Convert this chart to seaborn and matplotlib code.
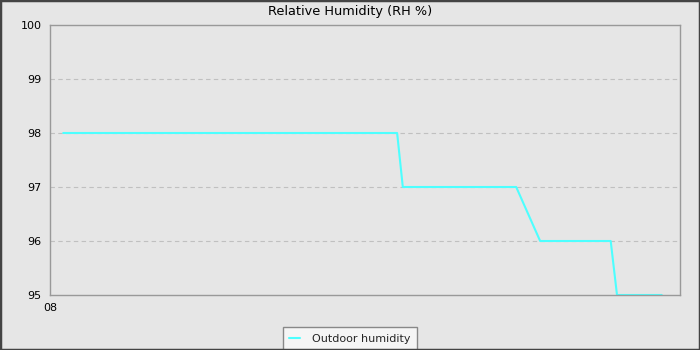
import matplotlib
matplotlib.use("Agg")
import matplotlib.pyplot as plt
from matplotlib.patches import Rectangle
from matplotlib.lines import Line2D
import seaborn as sns
import pandas as pd

# hours since 08:00
hours = [0.21, 5.51, 5.60, 7.40, 7.78, 8.90, 9.00, 9.71]
humidity = [98, 98, 97, 97, 96, 96, 95, 95]
x_ticks = [0, 6]
x_tick_labels = ["08", ""]
y_ticks = [95, 96, 97, 98, 99, 100]
series_name = "Outdoor humidity"
title = "Relative Humidity (RH %)"

df = pd.DataFrame({"hours": hours, "humidity": humidity, "series": series_name})

sns.set_style("white")
plt.rcParams["font.family"] = ["DejaVu Sans"]

fig = plt.figure(figsize=(7, 3.5), dpi=100, facecolor="#e6e6e6")
ax = fig.add_axes([50 / 700, 55 / 350, 630 / 700, 270 / 350])
ax.set_facecolor("#e6e6e6")

line_color = "#4dffff"
sns.lineplot(data=df, x="hours", y="humidity", hue="series", palette=[line_color],
             linewidth=1.5, ax=ax, legend=False, sort=False)

ax.set_xlim(0, 10)
ax.set_ylim(95, 100)
ax.set_xticks(x_ticks)
ax.set_xticklabels(x_tick_labels)
ax.set_yticks(y_ticks)
ax.tick_params(axis="both", direction="out", length=4, width=1, color="black",
               labelsize=8, labelcolor="black", pad=2)
ax.set_xlabel("")
ax.set_ylabel("")
for sp in ax.spines.values():
    sp.set_color("#999999")
    sp.set_linewidth(1)
    sp.set_visible(True)
ax.grid(False)
for y in y_ticks[1:-1]:
    ax.axhline(y, color="#c0c0c0", linestyle=(0, (4, 3)), linewidth=0.8, zorder=0)

fig.text(0.5, 1 - 12 / 350, title, ha="center", va="center", fontsize=9.3, color="black")

handle = Line2D([], [], color=line_color, linewidth=1.5)
leg = fig.legend([handle], [series_name], loc="lower center",
                 bbox_to_anchor=(0.5, -0.015), fontsize=8, frameon=True,
                 fancybox=False, handlelength=1.0, borderpad=0.55, handletextpad=1.1)
leg.get_frame().set_facecolor("#f5f5f5")
leg.get_frame().set_edgecolor("#888888")
leg.get_frame().set_linewidth(1)
leg.get_frame().set_alpha(1)

fig.patches.append(Rectangle((0, 0), 1, 1, transform=fig.transFigure, fill=False,
                             edgecolor="#444444", linewidth=2.5, zorder=10))

fig.savefig("out.png", dpi=100, facecolor=fig.get_facecolor())
